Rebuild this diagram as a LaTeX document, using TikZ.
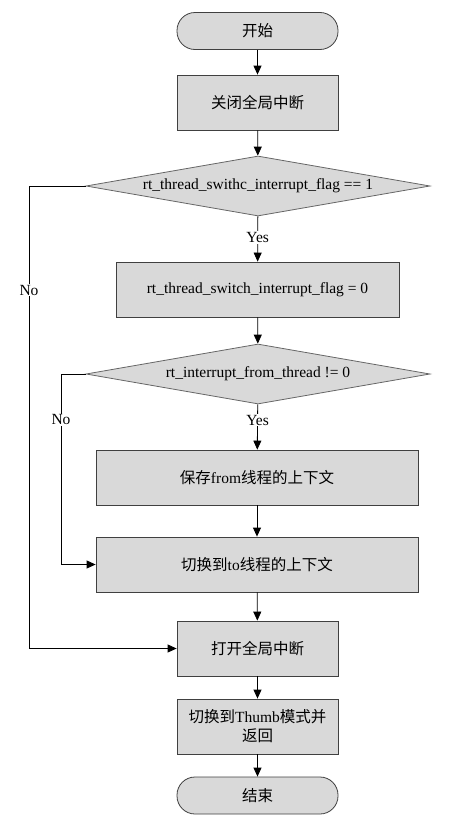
\documentclass[tikz,border=0pt]{standalone}
\usepackage{fontspec}
\setmainfont{Liberation Serif}
\newfontfamily\cjk{Noto Sans CJK SC}
\usetikzlibrary{shapes.geometric,arrows.meta}
\begin{document}
\begin{tikzpicture}[x=1pt, y=-1pt, line width=0.8pt, font=\fontsize{15.5}{19}\selectfont,
        terminal/.style={draw=black!75, fill=black!15, rectangle, rounded corners=18pt, minimum width=161pt, minimum height=37pt},
        process/.style={draw=black!75, fill=black!15, rectangle, minimum height=55pt, align=center},
        decision/.style={draw=black!60, fill=black!15, diamond, aspect=5.73, minimum width=344pt, minimum height=60pt, inner sep=0pt},
        flow/.style={-{Triangle[length=9pt,width=8pt]}, black},
        answer/.style={fill=white, inner sep=1pt}]
        \useasboundingbox (0,0) rectangle (450,822);
        % Start and first steps
        \node[terminal] (Start) at (257.5,31) {\cjk 开始};
        \node[process, minimum width=161pt] (IrqOff) at (257.5,102.5) {\cjk 关闭全局中断};
        \node[decision] (Dec1) at (258,186) {rt\_thread\_swithc\_interrupt\_flag == 1};
        \node[process, minimum width=283pt] (ClearFlag) at (257.5,289.5) {rt\_thread\_switch\_interrupt\_flag = 0};
        \node[decision] (Dec2) at (258,374) {rt\_interrupt\_from\_thread != 0};
        
        % Context switch
        \node[process, minimum width=322pt] (SaveFrom) at (257,477.5) {{\cjk 保存}from{\cjk 线程的上下文}};
        \node[process, minimum width=322pt] (LoadTo) at (257,564.5) {{\cjk 切换到}to{\cjk 线程的上下文}};
        
        % Exit
        \node[process, minimum width=161pt] (IrqOn) at (257.5,648.5) {\cjk 打开全局中断};
        \node[process, minimum width=161pt] (Thumb) at (257.5,726.5) {{\cjk 切换到}Thumb{\cjk 模式并}\\{\cjk 返回}};
        \node[terminal] (End) at (257.5,795.5) {\cjk 结束};
        
        % Corner points of the No branches
        \coordinate (N1a) at (29,186);
        \coordinate (N1b) at (29,648.5);
        \coordinate (N2a) at (61,374);
        \coordinate (N2b) at (61,564.5);
        
        % Main flow
        \draw[flow] (Start) -- (IrqOff);
        \draw[flow] (IrqOff) -- (Dec1);
        \draw[flow] (Dec1) -- node[answer, pos=0.47] {Yes} (ClearFlag);
        \draw[flow] (ClearFlag) -- (Dec2);
        \draw[flow] (Dec2) -- node[answer, pos=0.35] {Yes} (SaveFrom);
        \draw[flow] (SaveFrom) -- (LoadTo);
        \draw[flow] (LoadTo) -- (IrqOn);
        \draw[flow] (IrqOn) -- (Thumb);
        \draw[flow] (Thumb) -- (End);
        
        % No branches
        \draw[flow] (Dec1.west) -- (N1a) -- node[answer, pos=0.225] {No} (N1b) -- (IrqOn.west);
        \draw[flow] (Dec2.west) -- (N2a) -- node[answer, pos=0.24] {No} (N2b) -- (LoadTo.west);
\end{tikzpicture}
\end{document}
